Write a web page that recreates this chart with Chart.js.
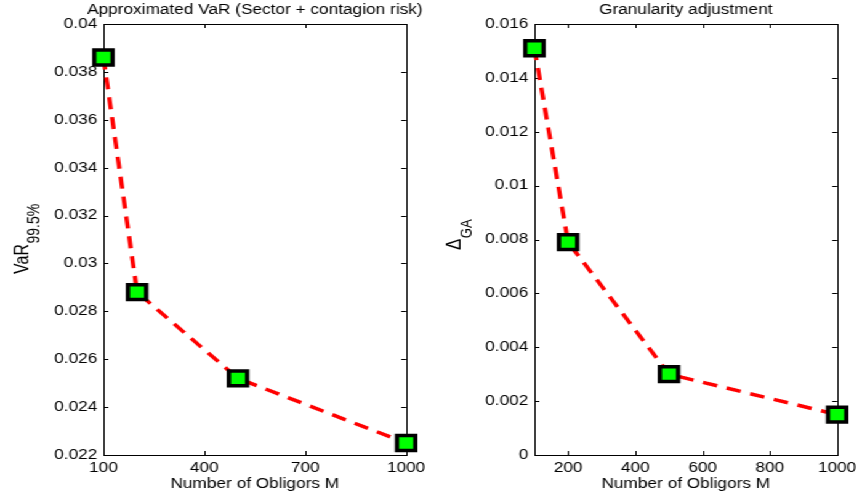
<!DOCTYPE html>
<html>
<head>
<meta charset="utf-8">
<script src="https://cdn.jsdelivr.net/npm/chart.js@4/dist/chart.umd.min.js"></script>
<style>
  html, body { margin: 0; padding: 0; background: #fff; overflow: hidden; }
  /* the reference is a 700px-wide figure stretched to 862px */
  #wrap { position: absolute; left: 0; top: 0; width: 700px; height: 496px;
          transform: scaleX(1.231429); transform-origin: 0 0; }
  .panel { position: absolute; top: 0; width: 350px; height: 496px; }
</style>
</head>
<body>
<div id="wrap">
  <div class="panel" style="left:0"><canvas id="varChart" width="350" height="496"></canvas></div>
  <div class="panel" style="left:350px"><canvas id="gaChart" width="350" height="496"></canvas></div>
</div>
<script>
const obligors  = [100, 200, 500, 1000];
const varValues = [0.0386, 0.0288, 0.0252, 0.0225];
const gaValues  = [0.0151, 0.0079, 0.0030, 0.0015];

const varXTicks = [100, 400, 700, 1000];
const varYTicks = [0.022, 0.024, 0.026, 0.028, 0.03, 0.032, 0.034, 0.036, 0.038, 0.04];
const gaXTicks  = [200, 400, 600, 800, 1000];
const gaYTicks  = [0, 0.002, 0.004, 0.006, 0.008, 0.01, 0.012, 0.014, 0.016];

const FONT = "'Liberation Sans', Arial, Helvetica, sans-serif";
const SIZE = 14;

// box round the plot area with inward tick marks on all four sides
const boxTicks = {
  id: 'boxTicks',
  beforeDatasetsDraw(chart) {
    const { ctx, chartArea: a, scales: { x, y } } = chart;
    const len = 4;
    ctx.save();
    ctx.strokeStyle = '#000';
    ctx.lineWidth = 1;
    ctx.beginPath();
    for (const t of x.ticks) {
      const px = Math.round(x.getPixelForValue(t.value)) + 0.5;
      ctx.moveTo(px, a.bottom); ctx.lineTo(px, a.bottom - len);
      ctx.moveTo(px, a.top);    ctx.lineTo(px, a.top + len);
    }
    for (const t of y.ticks) {
      const py = Math.round(y.getPixelForValue(t.value)) + 0.5;
      ctx.moveTo(a.left, py);  ctx.lineTo(a.left + len, py);
      ctx.moveTo(a.right, py); ctx.lineTo(a.right - len, py);
    }
    ctx.stroke();
    ctx.strokeRect(Math.round(a.left) + 0.5, Math.round(a.top) + 0.5,
                   Math.round(a.right - a.left), Math.round(a.bottom - a.top));
    ctx.restore();
  }
};

// title centred over the plot area, and the rotated y label with a subscript
const labels = {
  id: 'labels',
  afterDraw(chart, args, opts) {
    const { ctx, chartArea: a } = chart;
    ctx.save();
    ctx.fillStyle = '#000';
    ctx.textBaseline = 'alphabetic';
    ctx.textAlign = 'center';
    ctx.font = `${SIZE}px ${FONT}`;
    ctx.fillText(opts.title, (a.left + a.right) / 2, 14);

    ctx.translate(opts.x, opts.y);
    ctx.rotate(-Math.PI / 2);
    ctx.textAlign = 'left';
    ctx.font = `${opts.mainSize}px ${FONT}`;
    ctx.fillText(opts.main, 0, 0);
    const w = ctx.measureText(opts.main).width;
    ctx.font = `${opts.subSize}px ${FONT}`;
    ctx.fillText(opts.sub, w + 0.5, 8.5);
    ctx.restore();
  }
};

const fmtY = (v) => String(+v.toFixed(4));

function makePanel(id, cfg) {
  return new Chart(document.getElementById(id), {
    type: 'line',
    data: {
      datasets: [{
        data: obligors.map((m, i) => ({ x: m, y: cfg.values[i] })),
        borderColor: '#ff0000',
        borderWidth: 3.5,
        borderDash: [12, 8],
        tension: 0,
        fill: false,
        clip: false,
        pointStyle: 'rect',
        pointRadius: 10.5,
        pointHoverRadius: 10.5,
        pointBackgroundColor: '#00ff00',
        pointBorderColor: '#000',
        pointBorderWidth: 3.5,
      }],
    },
    options: {
      responsive: false,
      animation: false,
      events: [],
      layout: { padding: { left: 0, right: cfg.padRight, top: 24, bottom: 0 } },
      scales: {
        x: {
          type: 'linear',
          min: 100,
          max: 1000,
          afterBuildTicks: (s) => { s.ticks = cfg.xTicks.map(v => ({ value: v })); },
          afterFit: (s) => { s.height = 41; },
          grid: { display: false, drawTicks: false },
          border: { display: false },
          ticks: { padding: 4.6, color: '#000', maxRotation: 0, autoSkip: false,
                   font: { family: FONT, size: SIZE }, callback: (v) => String(v) },
          title: { display: true, text: 'Number of Obligors M', color: '#000',
                   font: { family: FONT, size: SIZE }, padding: { top: 0, bottom: 3 } },
        },
        y: {
          type: 'linear',
          min: cfg.yTicks[0],
          max: cfg.yTicks[cfg.yTicks.length - 1],
          afterBuildTicks: (s) => { s.ticks = cfg.yTicks.map(v => ({ value: v })); },
          afterFit: (s) => { s.width = 84; },
          grid: { display: false, drawTicks: false },
          border: { display: false },
          ticks: { padding: 5, color: '#000', autoSkip: false,
                   font: { family: FONT, size: SIZE }, callback: fmtY },
        },
      },
      plugins: {
        legend: { display: false },
        tooltip: { enabled: false },
        title: { display: false },
        labels: cfg.labels,
      },
    },
    plugins: [boxTicks, labels],
  });
}

makePanel('varChart', {
  values: varValues,
  xTicks: varXTicks,
  yTicks: varYTicks,
  padRight: 17,
  labels: { title: 'Approximated VaR (Sector + contagion risk)',
            main: 'VaR', sub: '99.5%', mainSize: 16, subSize: 14, x: 23, y: 274 },
});

makePanel('gaChart', {
  values: gaValues,
  xTicks: gaXTicks,
  yTicks: gaYTicks,
  padRight: 15,
  labels: { title: 'Granularity adjustment',
            main: 'Δ', sub: 'GA', mainSize: 17, subSize: 13, x: 24, y: 250 },
});
</script>
</body>
</html>
